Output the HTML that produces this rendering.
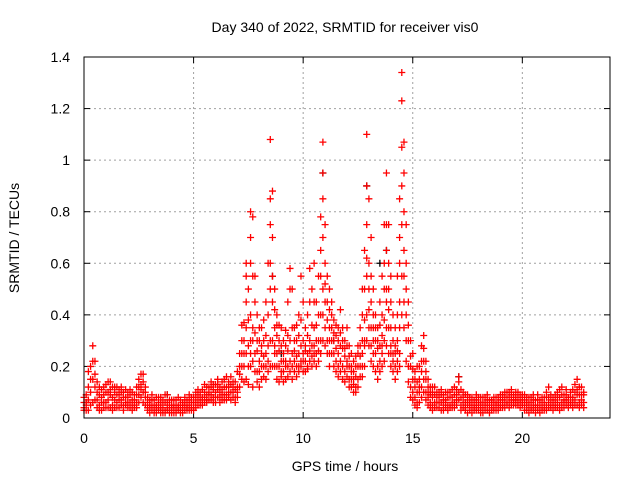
<!DOCTYPE html>
<html><head><meta charset="utf-8"><style>
html,body{margin:0;padding:0;background:#fff;}
svg{display:block;font-family:"Liberation Sans",sans-serif;}
</style></head><body>
<svg id="chart" width="640" height="480" viewBox="0 0 640 480" xmlns="http://www.w3.org/2000/svg">
<rect width="640" height="480" fill="#fff"/>
<text x="345" y="32" font-size="14" text-anchor="middle" fill="#000">Day 340 of 2022, SRMTID for receiver vis0</text>
<text transform="translate(19,238) rotate(-90)" font-size="14" text-anchor="middle" fill="#000">SRMTID / TECUs</text>
<text x="345" y="471" font-size="14" text-anchor="middle" fill="#000">GPS time / hours</text>
<g id="grid"></g><g id="ticks"></g><g id="marks"></g>
<rect x="84" y="57" width="526" height="361" fill="none" stroke="#000" stroke-width="1"/>
</svg>
<script>
const times=[0,0.1,0.2,0.3,0.4,0.5,0.6,0.7,0.8,0.9,1.0,1.1,1.2,1.3,1.4,1.5,1.6,1.7,1.8,1.9,2.0,2.1,2.2,2.3,2.4,2.5,2.6,2.7,2.8,2.9,3.0,3.1,3.2,3.3,3.4,3.5,3.6,3.7,3.8,3.9,4.0,4.1,4.2,4.3,4.4,4.5,4.6,4.7,4.8,4.9,5.0,5.1,5.2,5.3,5.4,5.5,5.6,5.7,5.8,5.9,6.0,6.1,6.2,6.3,6.4,6.5,6.6,6.7,6.8,6.9,7.0,7.1,7.2,7.3,7.4,7.5,7.6,7.7,7.8,7.9,8.0,8.1,8.2,8.3,8.4,8.5,8.6,8.7,8.8,8.9,9.0,9.1,9.2,9.3,9.4,9.5,9.6,9.7,9.8,9.9,10.0,10.1,10.2,10.3,10.4,10.5,10.6,10.7,10.8,10.9,11.0,11.1,11.2,11.3,11.4,11.5,11.6,11.7,11.8,11.9,12.0,12.1,12.2,12.3,12.4,12.5,12.6,12.7,12.8,12.9,13.0,13.1,13.2,13.3,13.4,13.5,13.6,13.7,13.8,13.9,14.0,14.1,14.2,14.3,14.4,14.5,14.6,14.7,14.8,14.9,15.0,15.1,15.2,15.3,15.4,15.5,15.6,15.7,15.8,15.9,16.0,16.1,16.2,16.3,16.4,16.5,16.6,16.7,16.8,16.9,17.0,17.1,17.2,17.3,17.4,17.5,17.6,17.7,17.8,17.9,18.0,18.1,18.2,18.3,18.4,18.5,18.6,18.7,18.8,18.9,19.0,19.1,19.2,19.3,19.4,19.5,19.6,19.7,19.8,19.9,20.0,20.1,20.2,20.3,20.4,20.5,20.6,20.7,20.8,20.9,21.0,21.1,21.2,21.3,21.4,21.5,21.6,21.7,21.8,21.9,22.0,22.1,22.2,22.3,22.4,22.5,22.6,22.7,22.8];
const values=[
[0.04,0.08,0.03,0.06],[0.06,0.03,0.09,0.05],[0.12,0.03,0.18,0.07],[0.2,0.1,0.05,0.15],[0.28,0.15,0.06,0.22],[0.22,0.07,0.12,0.17],[0.1,0.04,0.14,0.07],[0.05,0.09,0.12,0.03],[0.08,0.03,0.11,0.06],[0.12,0.06,0.09,0.04],
[0.06,0.1,0.13,0.04],[0.1,0.04,0.07,0.14],[0.14,0.04,0.09,0.11],[0.08,0.05,0.12,0.03],[0.12,0.07,0.04,0.1],[0.06,0.09,0.12,0.04],[0.09,0.04,0.07,0.11],[0.07,0.1,0.05,0.12],[0.1,0.05,0.08,0.03],[0.05,0.08,0.11,0.06],
[0.08,0.04,0.06,0.1],[0.06,0.09,0.04,0.11],[0.1,0.05,0.07,0.03],[0.05,0.07,0.09,0.04],[0.09,0.04,0.06,0.12],[0.12,0.06,0.09,0.15],[0.17,0.08,0.13,0.11],[0.14,0.06,0.17,0.1],[0.1,0.05,0.08,0.12],[0.06,0.03,0.08,0.04],
[0.04,0.07,0.02,0.05],[0.07,0.03,0.05,0.09],[0.03,0.05,0.07,0.02],[0.05,0.02,0.08,0.04],[0.08,0.04,0.06,0.03],[0.04,0.02,0.06,0.08],[0.02,0.05,0.03,0.07],[0.06,0.03,0.09,0.02],[0.09,0.03,0.06,0.04],[0.05,0.02,0.07,0.03],
[0.02,0.05,0.04,0.07],[0.04,0.07,0.02,0.05],[0.07,0.03,0.05,0.02],[0.03,0.05,0.08,0.04],[0.05,0.02,0.07,0.03],[0.04,0.06,0.02,0.05],[0.06,0.03,0.05,0.08],[0.03,0.05,0.07,0.04],[0.05,0.07,0.03,0.09],[0.08,0.04,0.06,0.03],
[0.04,0.06,0.08,0.03],[0.06,0.1,0.04,0.08],[0.09,0.05,0.07,0.11],[0.05,0.08,0.1,0.06],[0.08,0.05,0.11,0.07],[0.1,0.06,0.08,0.13],[0.06,0.09,0.12,0.07],[0.09,0.12,0.07,0.1],[0.12,0.07,0.09,0.14],[0.08,0.11,0.13,0.06],
[0.1,0.06,0.13,0.08],[0.13,0.08,0.11,0.15],[0.08,0.12,0.1,0.06],[0.11,0.07,0.14,0.09],[0.15,0.09,0.12,0.07],[0.09,0.12,0.16,0.07],[0.12,0.08,0.1,0.14],[0.07,0.1,0.13,0.16],[0.1,0.14,0.08,0.12],[0.14,0.08,0.11,0.06],
[0.18,0.08,0.12,0.1],[0.25,0.12,0.17,0.2],[0.36,0.15,0.25,0.2,0.3],[0.3,0.2,0.14,0.25,0.37],[0.6,0.35,0.15,0.25,0.45,0.55],[0.5,0.28,0.2,0.38,0.13],[0.8,0.4,0.2,0.3,0.6,0.25,0.7],[0.78,0.3,0.12,0.22,0.55,0.35],[0.55,0.25,0.18,0.33,0.45],[0.4,0.18,0.26,0.3,0.14],
[0.3,0.22,0.12,0.18,0.35],[0.25,0.35,0.15,0.2,0.28],[0.2,0.3,0.16,0.24,0.38],[0.45,0.15,0.25,0.32,0.2],[0.6,0.28,0.18,0.4,0.22],[1.08,0.75,0.3,0.5,0.6,0.2,0.85],[0.88,0.55,0.2,0.45,0.3,0.7],[0.5,0.35,0.25,0.42,0.2,0.28],[0.4,0.25,0.15,0.32,0.2,0.36],[0.3,0.2,0.26,0.14,0.36],
[0.35,0.22,0.18,0.28,0.16],[0.25,0.18,0.3,0.14,0.22],[0.28,0.15,0.22,0.34,0.2],[0.45,0.2,0.26,0.32,0.16],[0.58,0.3,0.22,0.5,0.18],[0.5,0.25,0.15,0.35,0.2],[0.35,0.22,0.3,0.18,0.26],[0.3,0.2,0.24,0.16,0.36],[0.4,0.25,0.2,0.32,0.18],[0.55,0.28,0.22,0.38,0.2],
[0.45,0.3,0.18,0.25,0.22],[0.35,0.22,0.28,0.18,0.26],[0.4,0.25,0.2,0.32,0.19],[0.58,0.3,0.22,0.45,0.26],[0.5,0.28,0.2,0.36,0.24],[0.6,0.35,0.22,0.28,0.45,0.25],[0.45,0.25,0.3,0.2,0.36],[0.55,0.3,0.22,0.4,0.26],[0.78,0.4,0.25,0.55,0.3,0.65],[1.07,0.95,0.5,0.7,0.3,0.85,0.4],
[0.75,0.6,0.35,0.45,0.28,0.52],[0.55,0.45,0.3,0.38,0.25],[0.5,0.35,0.25,0.42,0.3,0.2],[0.45,0.3,0.35,0.25,0.4],[0.38,0.25,0.3,0.2,0.33],[0.32,0.22,0.27,0.18,0.36],[0.3,0.2,0.25,0.35,0.16],[0.42,0.28,0.22,0.33,0.18],[0.35,0.2,0.27,0.15,0.3],[0.3,0.18,0.24,0.14,0.27],
[0.35,0.22,0.16,0.28,0.2],[0.28,0.15,0.2,0.12,0.24],[0.25,0.12,0.18,0.2,0.15],[0.22,0.1,0.15,0.18,0.13],[0.2,0.12,0.16,0.1,0.24],[0.28,0.15,0.2,0.12,0.25],[0.35,0.2,0.16,0.28,0.24],[0.5,0.3,0.2,0.4,0.25,0.16],[0.65,0.38,0.2,0.3,0.5,0.28],[1.1,0.9,0.55,0.75,0.4,0.3,0.62],
[0.85,0.6,0.35,0.5,0.28,0.42],[0.7,0.45,0.28,0.35,0.55,0.22],[0.5,0.35,0.25,0.4,0.2,0.3],[0.4,0.25,0.3,0.18,0.35],[0.35,0.2,0.27,0.15,0.3],[0.45,0.28,0.22,0.36,0.18],[0.55,0.32,0.25,0.4,0.2,0.28],[0.75,0.5,0.3,0.6,0.38,0.22],[0.95,0.65,0.35,0.5,0.45,0.28,0.75],[0.75,0.5,0.35,0.6,0.25,0.42],
[0.55,0.35,0.2,0.28,0.45,0.25],[0.4,0.25,0.3,0.18,0.22],[0.35,0.2,0.25,0.15,0.28],[0.55,0.3,0.22,0.4,0.18,0.26],[0.85,0.6,0.25,0.45,0.35,0.7,0.2],[1.34,1.23,0.9,1.05,0.75,0.55,0.4],[1.07,0.8,0.55,0.95,0.65,0.35,0.45],[0.75,0.5,0.3,0.6,0.4,0.22],[0.45,0.2,0.3,0.14,0.36],[0.3,0.12,0.2,0.08,0.24],
[0.25,0.1,0.15,0.07,0.19],[0.18,0.08,0.12,0.05,0.15],[0.14,0.06,0.1,0.04,0.2],[0.2,0.1,0.15,0.06,0.12],[0.28,0.12,0.18,0.08,0.22],[0.32,0.15,0.22,0.1,0.27],[0.22,0.1,0.15,0.07,0.18],[0.15,0.08,0.12,0.05,0.1],[0.12,0.06,0.09,0.04,0.1],[0.1,0.05,0.08,0.03,0.12],
[0.12,0.06,0.09,0.04],[0.08,0.04,0.1,0.06],[0.1,0.06,0.04,0.08],[0.06,0.09,0.03,0.11],[0.09,0.05,0.07,0.03],[0.07,0.1,0.04,0.06],[0.1,0.05,0.08,0.03],[0.05,0.08,0.1,0.04],[0.08,0.04,0.06,0.11],[0.12,0.06,0.09,0.04],
[0.09,0.05,0.07,0.11],[0.14,0.07,0.1,0.16],[0.08,0.05,0.11,0.03],[0.1,0.06,0.04,0.08],[0.06,0.04,0.09,0.03],[0.09,0.05,0.07,0.02],[0.05,0.08,0.03,0.06],[0.08,0.04,0.06,0.02],[0.04,0.07,0.03,0.05],[0.07,0.03,0.05,0.09],
[0.05,0.08,0.03,0.06],[0.08,0.04,0.06,0.02],[0.04,0.06,0.02,0.08],[0.06,0.03,0.05,0.08],[0.09,0.05,0.03,0.07],[0.05,0.03,0.07,0.02],[0.07,0.04,0.06,0.03],[0.04,0.06,0.08,0.03],[0.06,0.03,0.05,0.08],[0.08,0.05,0.03,0.06],
[0.05,0.07,0.04,0.09],[0.07,0.05,0.09,0.04],[0.1,0.06,0.08,0.04],[0.06,0.08,0.1,0.05],[0.08,0.06,0.04,0.1],[0.09,0.07,0.05,0.11],[0.07,0.05,0.09,0.06],[0.1,0.07,0.05,0.08],[0.08,0.06,0.1,0.05],[0.06,0.09,0.07,0.04],
[0.09,0.06,0.08,0.05],[0.07,0.05,0.09,0.03],[0.05,0.08,0.03,0.06],[0.08,0.04,0.06,0.02],[0.06,0.03,0.08,0.04],[0.09,0.05,0.03,0.07],[0.04,0.07,0.02,0.05],[0.07,0.03,0.05,0.09],[0.05,0.03,0.07,0.02],[0.03,0.06,0.04,0.08],
[0.06,0.04,0.08,0.03],[0.08,0.05,0.03,0.1],[0.12,0.06,0.08,0.04],[0.07,0.04,0.09,0.05],[0.05,0.08,0.03,0.06],[0.09,0.05,0.07,0.04],[0.06,0.04,0.08,0.1],[0.08,0.05,0.03,0.11],[0.12,0.06,0.09,0.04],[0.06,0.09,0.04,0.07],
[0.09,0.05,0.07,0.11],[0.05,0.08,0.04,0.06],[0.08,0.05,0.1,0.06],[0.11,0.06,0.08,0.04],[0.07,0.1,0.05,0.13],[0.15,0.05,0.09,0.11],[0.09,0.06,0.12,0.04],[0.12,0.07,0.09,0.05],[0.06,0.09,0.1,0.04]];
const blackTimes=[3.8,10.9,12.9,13.5,13.8,17.1,8.6,0.1,9.0,11.4];
const blackValues=[0.09,0.95,0.9,0.6,0.65,0.16,0.55,0.06,0.25,0.3];
const xTicks=[0,5,10,15,20];
const yTicks=[0,0.2,0.4,0.6,0.8,1,1.2,1.4];
const yTickLabels=["0","0.2","0.4","0.6","0.8","1","1.2","1.4"];

const NS="http://www.w3.org/2000/svg";
const L=84,R=610,T=57,B=418,XMAX=24,YMAX=1.4;
const xs=v=>L+(R-L)*v/XMAX;
const ys=v=>B-(B-T)*v/YMAX;
function mk(tag,attrs,parent){const e=document.createElementNS(NS,tag);for(const k in attrs)e.setAttribute(k,attrs[k]);parent.appendChild(e);return e;}
const grid=document.getElementById('grid'),ticks=document.getElementById('ticks'),marks=document.getElementById('marks');
xTicks.forEach(t=>{
  const x=xs(t);
  if(t>0){const g=mk('line',{x1:x,x2:x,y1:T,y2:B,stroke:'#a0a0a0','stroke-dasharray':'2,3'},grid);
  
  }
  mk('line',{x1:x,x2:x,y1:B,y2:B-6,stroke:'#000'},ticks);
  mk('line',{x1:x,x2:x,y1:T,y2:T+6,stroke:'#000'},ticks);
  const tx=mk('text',{x:x,y:443,'font-size':14,'text-anchor':'middle'},ticks);tx.textContent=t;
  
  
});
yTicks.forEach((t,i)=>{
  const y=ys(t);
  if(t>0&&t<YMAX){const g=mk('line',{x1:L,x2:R,y1:y,y2:y,stroke:'#a0a0a0','stroke-dasharray':'2,3'},grid);
  
  }
  mk('line',{x1:L,x2:L+6,y1:y,y2:y,stroke:'#000'},ticks);
  mk('line',{x1:R,x2:R-6,y1:y,y2:y,stroke:'#000'},ticks);
  const tx=mk('text',{x:70,y:y+5,'font-size':14,'text-anchor':'end'},ticks);tx.textContent=yTickLabels[i];
  
  
});
function plus(t,v,col){
  const x=xs(t),y=ys(v);
  return mk('path',{d:`M${x-3.5},${y}H${x+3.5}M${x},${y-3.5}V${y+3.5}`,stroke:col,'stroke-width':1.3,fill:'none'},marks);
}
blackTimes.forEach((t,i)=>{
  const p=plus(t,blackValues[i],'#000');
  
  
});
times.forEach((t,i)=>{
  values[i].forEach(v=>{
    const p=plus(t,v,'#ff0000');
    
    
  });
});
</script>
</body></html>
